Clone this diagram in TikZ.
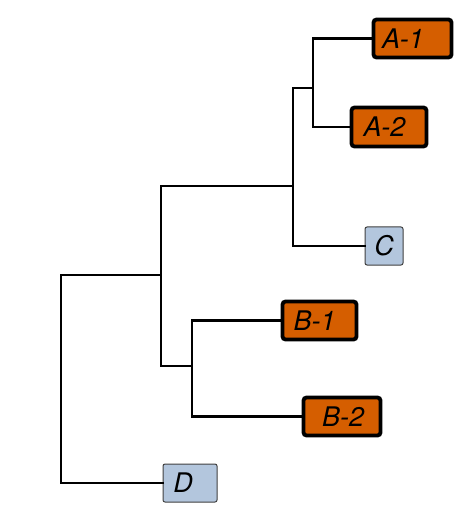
\documentclass[tikz,border=0pt]{standalone}
\usepackage{fontspec}
\setmainfont{TeX Gyre Heros}
\definecolor{leaforange}{HTML}{D55E00}
\definecolor{leafblue}{HTML}{B3C6DD}
\begin{document}
\begin{tikzpicture}[x=1pt,y=-1pt,
  edge/.style={line width=2.8pt, line cap=rect, line join=miter},
  obox/.style={draw=black, fill=leaforange, line width=3.8pt, rounded corners=3pt, inner sep=0pt},
  bbox/.style={draw=black!75, fill=leafblue, line width=1pt, rounded corners=2pt, inner sep=0pt},
  lbl/.style={font=\fontsize{27}{29}\selectfont\itshape, inner sep=0pt}]
\useasboundingbox (0,0) rectangle (475,510);
% leaves
\node[obox, minimum width=78pt, minimum height=38pt] (a1) at (412.5,38.5) {};
\node[lbl] (a1t) at (403,38.5) {A-1};
\node[obox, minimum width=75pt, minimum height=39pt] (a2) at (389,127) {};
\node[lbl] (a2t) at (384.5,127) {A-2};
\node[bbox, minimum width=38pt, minimum height=38pt] (c) at (384,246) {};
\node[lbl] (ct) at (384,246) {C};
\node[obox, minimum width=74pt, minimum height=38pt] (b1) at (319.5,320.5) {};
\node[lbl] (b1t) at (314.5,320.5) {B-1};
\node[obox, minimum width=77pt, minimum height=38pt] (b2) at (342,416.5) {};
\node[lbl] (b2t) at (343,416.5) {B-2};
\node[bbox, minimum width=54pt, minimum height=38pt] (d) at (190,483) {};
\node[lbl] (dt) at (183,483) {D};
% internal nodes
\coordinate (root) at (61,379);
\coordinate (n2) at (161,275);
\coordinate (n3) at (293,186);
\coordinate (n4) at (313,88);
\coordinate (n5) at (192,366);
% edges
\draw[edge] (root) |- (n2);
\draw[edge] (root) |- (d.west);
\draw[edge] (n2) |- (n3);
\draw[edge] (n2) |- (n5);
\draw[edge] (n3) |- (n4);
\draw[edge] (n3) |- (c.west);
\draw[edge] (n4) |- (a1.west);
\draw[edge] (n4) |- (a2.west);
\draw[edge] (n5) |- (b1.west);
\draw[edge] (n5) |- (b2.west);
\end{tikzpicture}
\end{document}
